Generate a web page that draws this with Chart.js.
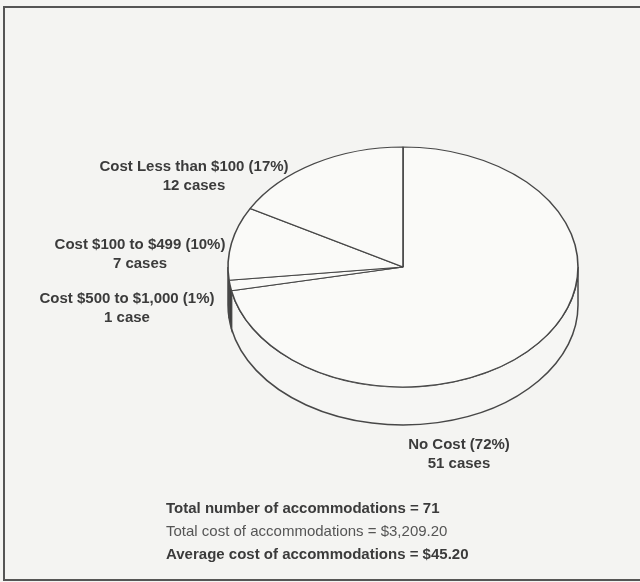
<!DOCTYPE html>
<html>
<head>
<meta charset="utf-8">
<title>Cost of accommodations</title>
<script src="https://cdn.jsdelivr.net/npm/chart.js@4.4.0/dist/chart.umd.min.js"></script>
<style>
  html, body { margin: 0; padding: 0; background: #f4f4f2; }
  .wrap { position: relative; width: 640px; height: 582px; overflow: hidden; }
  .frame { position: absolute; left: 3px; top: 6px; width: 660px; height: 571px;
           border: 2px solid #555; border-right: none; }
  canvas { position: absolute; left: 0; top: 0; }
</style>
</head>
<body>
<div class="wrap">
  <canvas id="piechart" width="640" height="582"></canvas>
  <div class="frame"></div>
</div>
<script>
"use strict";

// accommodation cost groups, clockwise from 12 o'clock
var categories = ["No Cost", "Cost $500 to $1,000", "Cost $100 to $499", "Cost Less than $100"];
var cases      = [51, 1, 7, 12];
var percents   = [72, 1, 10, 17];

var summaryLines = [
	"Total number of accommodations = 71",
	"Total cost of accommodations = $3,209.20",
	"Average cost of accommodations = $45.20"
];

/*----------------------------------------*/
/*  label placement / look
/*----------------------------------------*/
var labelPos = [[459, 445], [127, 299], [140, 245], [194, 167]];
var sideColors = ['#f6f6f4', '#3a3a3a', '#f6f6f4', '#f6f6f4'];
var TILT  = 120 / 175;   // vertical squash of the disc
var DEPTH = 38;          // thickness of the disc
var INK   = '#3b3b3b';

function caseText(n) {
	return n + (n === 1 ? " case" : " cases");
}

/*----------------------------------------*/
/*  fake 3d: side wall + squashed top
/*----------------------------------------*/
var pie3d = {
	id: 'pie3d',
	beforeDatasetsDraw: function (chart) {
		var ctx = chart.ctx;
		var arcs = chart.getDatasetMeta(0).data;
		var cx = arcs[0].x, cy = arcs[0].y, r = arcs[0].outerRadius;

		ctx.save();
		ctx.lineWidth = 1.5;
		ctx.strokeStyle = '#474747';
		arcs.forEach(function (arc, i) {
			// only the front half of the wall is seen
			var a1 = Math.max(arc.startAngle, 0);
			var a2 = Math.min(arc.endAngle, Math.PI);
			if (a2 <= a1) return;
			ctx.beginPath();
			ctx.ellipse(cx, cy, r, r * TILT, 0, a1, a2, false);
			ctx.ellipse(cx, cy + DEPTH, r, r * TILT, 0, a2, a1, true);
			ctx.closePath();
			ctx.fillStyle = sideColors[i];
			ctx.fill();
			ctx.stroke();
		});
		ctx.restore();

		ctx.save();
		ctx.translate(cx, cy);
		ctx.scale(1, TILT);
		ctx.translate(-cx, -cy);
	},
	afterDatasetsDraw: function (chart) {
		chart.ctx.restore();
	},
	afterDraw: function (chart) {
		var ctx = chart.ctx;
		ctx.save();
		ctx.fillStyle = INK;
		ctx.textAlign = 'center';
		ctx.textBaseline = 'middle';
		ctx.font = 'bold 15px "Liberation Sans", Arial, sans-serif';
		categories.forEach(function (name, i) {
			var p = labelPos[i];
			ctx.fillText(name + " (" + percents[i] + "%)", p[0], p[1]);
			ctx.fillText(caseText(cases[i]), p[0], p[1] + 19);
		});

		ctx.textAlign = 'left';
		ctx.font = 'bold 15px "Liberation Sans", Arial, sans-serif';
		ctx.fillText(summaryLines[0], 166, 509);
		ctx.font = '15px "Liberation Sans", Arial, sans-serif';
		ctx.fillStyle = '#555';
		ctx.fillText(summaryLines[1], 166, 532);
		ctx.font = 'bold 15px "Liberation Sans", Arial, sans-serif';
		ctx.fillStyle = INK;
		ctx.fillText(summaryLines[2], 166, 555);
		ctx.restore();
	}
};

var ctx = document.getElementById("piechart");
var piechart = new Chart(ctx, {
	type: 'pie',
	data: {
		labels: categories,
		datasets: [{
			data: cases,
			backgroundColor: '#fafaf8',
			borderColor: '#474747',
			borderWidth: 1.6,
			clip: false
		}]
	},
	options: {
		responsive: false,
		animation: false,
		radius: 175,
		layout: {
			padding: { left: 228, right: 62, top: 92, bottom: 140 }
		},
		events: [],
		plugins: {
			legend: { display: false },
			tooltip: { enabled: false }
		}
	},
	plugins: [pie3d]
});
</script>
</body>
</html>
